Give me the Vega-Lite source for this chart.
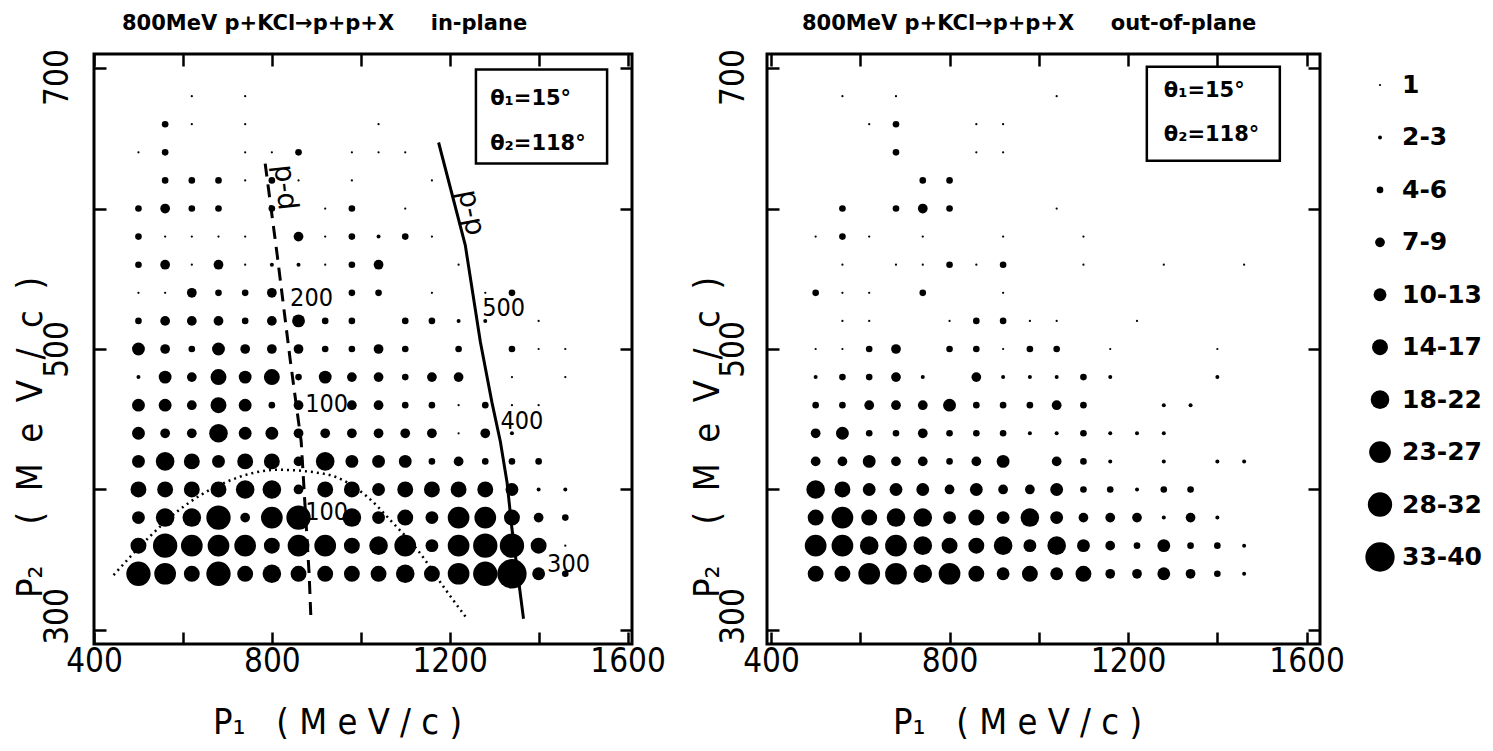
{
  "$schema": "https://vega.github.io/schema/vega-lite/v6.json",
  "padding": {"left": 10, "top": 11, "right": 0, "bottom": 0},
  "bounds": "flush",
  "spacing": 135,
  "config": {
    "view": {"stroke": "black", "strokeWidth": 3},
    "font": "DejaVu Sans",
    "axis": {"grid": false, "domain": false, "tickColor": "black", "tickWidth": 2.5, "tickSize": -12, "labelColor": "black", "titleColor": "black", "labelFont": "DejaVu Sans Condensed, sans-serif", "titleFont": "DejaVu Sans Condensed, sans-serif", "labelFontSize": 33, "titleFontSize": 36, "titleFontWeight": "normal", "labelFlush": false, "labelOverlap": false}
  },
  "datasets": {
    "cells": [
      {"panel":"in","p1":620,"p2":680,"n":"1"},{"panel":"in","p1":740,"p2":680,"n":"1"},
      {"panel":"in","p1":560,"p2":660,"n":"4-6"},{"panel":"in","p1":620,"p2":660,"n":"1"},{"panel":"in","p1":740,"p2":660,"n":"1"},{"panel":"in","p1":1040,"p2":660,"n":"1"},
      {"panel":"in","p1":500,"p2":640,"n":"1"},{"panel":"in","p1":560,"p2":640,"n":"4-6"},{"panel":"in","p1":740,"p2":640,"n":"1"},{"panel":"in","p1":800,"p2":640,"n":"1"},{"panel":"in","p1":860,"p2":640,"n":"4-6"},{"panel":"in","p1":980,"p2":640,"n":"1"},{"panel":"in","p1":1040,"p2":640,"n":"1"},{"panel":"in","p1":1100,"p2":640,"n":"1"},
      {"panel":"in","p1":560,"p2":620,"n":"4-6"},{"panel":"in","p1":620,"p2":620,"n":"4-6"},{"panel":"in","p1":680,"p2":620,"n":"4-6"},{"panel":"in","p1":740,"p2":620,"n":"1"},{"panel":"in","p1":800,"p2":620,"n":"4-6"},{"panel":"in","p1":860,"p2":620,"n":"1"},{"panel":"in","p1":980,"p2":620,"n":"1"},{"panel":"in","p1":1160,"p2":620,"n":"1"},
      {"panel":"in","p1":500,"p2":600,"n":"4-6"},{"panel":"in","p1":560,"p2":600,"n":"7-9"},{"panel":"in","p1":620,"p2":600,"n":"4-6"},{"panel":"in","p1":680,"p2":600,"n":"4-6"},{"panel":"in","p1":800,"p2":600,"n":"4-6"},{"panel":"in","p1":920,"p2":600,"n":"1"},{"panel":"in","p1":980,"p2":600,"n":"4-6"},{"panel":"in","p1":1100,"p2":600,"n":"1"},
      {"panel":"in","p1":500,"p2":580,"n":"4-6"},{"panel":"in","p1":560,"p2":580,"n":"1"},{"panel":"in","p1":620,"p2":580,"n":"1"},{"panel":"in","p1":680,"p2":580,"n":"1"},{"panel":"in","p1":740,"p2":580,"n":"1"},{"panel":"in","p1":860,"p2":580,"n":"7-9"},{"panel":"in","p1":920,"p2":580,"n":"1"},{"panel":"in","p1":980,"p2":580,"n":"4-6"},{"panel":"in","p1":1040,"p2":580,"n":"2-3"},{"panel":"in","p1":1100,"p2":580,"n":"4-6"},{"panel":"in","p1":1160,"p2":580,"n":"1"},
      {"panel":"in","p1":500,"p2":560,"n":"4-6"},{"panel":"in","p1":560,"p2":560,"n":"7-9"},{"panel":"in","p1":620,"p2":560,"n":"1"},{"panel":"in","p1":680,"p2":560,"n":"7-9"},{"panel":"in","p1":740,"p2":560,"n":"1"},{"panel":"in","p1":800,"p2":560,"n":"2-3"},{"panel":"in","p1":860,"p2":560,"n":"2-3"},{"panel":"in","p1":920,"p2":560,"n":"1"},{"panel":"in","p1":980,"p2":560,"n":"4-6"},{"panel":"in","p1":1040,"p2":560,"n":"7-9"},{"panel":"in","p1":1220,"p2":560,"n":"1"},
      {"panel":"in","p1":500,"p2":540,"n":"1"},{"panel":"in","p1":560,"p2":540,"n":"1"},{"panel":"in","p1":620,"p2":540,"n":"7-9"},{"panel":"in","p1":680,"p2":540,"n":"4-6"},{"panel":"in","p1":740,"p2":540,"n":"4-6"},{"panel":"in","p1":800,"p2":540,"n":"7-9"},{"panel":"in","p1":980,"p2":540,"n":"4-6"},{"panel":"in","p1":1040,"p2":540,"n":"4-6"},{"panel":"in","p1":1160,"p2":540,"n":"1"},{"panel":"in","p1":1280,"p2":540,"n":"1"},{"panel":"in","p1":1340,"p2":540,"n":"4-6"},
      {"panel":"in","p1":500,"p2":520,"n":"4-6"},{"panel":"in","p1":560,"p2":520,"n":"7-9"},{"panel":"in","p1":620,"p2":520,"n":"7-9"},{"panel":"in","p1":680,"p2":520,"n":"7-9"},{"panel":"in","p1":740,"p2":520,"n":"4-6"},{"panel":"in","p1":800,"p2":520,"n":"7-9"},{"panel":"in","p1":860,"p2":520,"n":"10-13"},{"panel":"in","p1":920,"p2":520,"n":"4-6"},{"panel":"in","p1":980,"p2":520,"n":"4-6"},{"panel":"in","p1":1100,"p2":520,"n":"4-6"},{"panel":"in","p1":1160,"p2":520,"n":"4-6"},{"panel":"in","p1":1220,"p2":520,"n":"2-3"},{"panel":"in","p1":1280,"p2":520,"n":"2-3"},{"panel":"in","p1":1400,"p2":520,"n":"1"},
      {"panel":"in","p1":500,"p2":500,"n":"10-13"},{"panel":"in","p1":560,"p2":500,"n":"7-9"},{"panel":"in","p1":620,"p2":500,"n":"4-6"},{"panel":"in","p1":680,"p2":500,"n":"10-13"},{"panel":"in","p1":740,"p2":500,"n":"7-9"},{"panel":"in","p1":800,"p2":500,"n":"7-9"},{"panel":"in","p1":860,"p2":500,"n":"7-9"},{"panel":"in","p1":920,"p2":500,"n":"4-6"},{"panel":"in","p1":980,"p2":500,"n":"4-6"},{"panel":"in","p1":1040,"p2":500,"n":"7-9"},{"panel":"in","p1":1100,"p2":500,"n":"4-6"},{"panel":"in","p1":1220,"p2":500,"n":"4-6"},{"panel":"in","p1":1340,"p2":500,"n":"4-6"},{"panel":"in","p1":1400,"p2":500,"n":"1"},{"panel":"in","p1":1460,"p2":500,"n":"1"},
      {"panel":"in","p1":500,"p2":480,"n":"2-3"},{"panel":"in","p1":560,"p2":480,"n":"10-13"},{"panel":"in","p1":620,"p2":480,"n":"7-9"},{"panel":"in","p1":680,"p2":480,"n":"14-17"},{"panel":"in","p1":740,"p2":480,"n":"10-13"},{"panel":"in","p1":800,"p2":480,"n":"14-17"},{"panel":"in","p1":860,"p2":480,"n":"4-6"},{"panel":"in","p1":920,"p2":480,"n":"10-13"},{"panel":"in","p1":980,"p2":480,"n":"7-9"},{"panel":"in","p1":1040,"p2":480,"n":"7-9"},{"panel":"in","p1":1100,"p2":480,"n":"4-6"},{"panel":"in","p1":1160,"p2":480,"n":"7-9"},{"panel":"in","p1":1220,"p2":480,"n":"7-9"},{"panel":"in","p1":1340,"p2":480,"n":"1"},{"panel":"in","p1":1460,"p2":480,"n":"1"},
      {"panel":"in","p1":500,"p2":460,"n":"10-13"},{"panel":"in","p1":560,"p2":460,"n":"10-13"},{"panel":"in","p1":620,"p2":460,"n":"7-9"},{"panel":"in","p1":680,"p2":460,"n":"14-17"},{"panel":"in","p1":740,"p2":460,"n":"10-13"},{"panel":"in","p1":800,"p2":460,"n":"4-6"},{"panel":"in","p1":860,"p2":460,"n":"7-9"},{"panel":"in","p1":980,"p2":460,"n":"7-9"},{"panel":"in","p1":1040,"p2":460,"n":"7-9"},{"panel":"in","p1":1100,"p2":460,"n":"4-6"},{"panel":"in","p1":1160,"p2":460,"n":"4-6"},{"panel":"in","p1":1220,"p2":460,"n":"1"},{"panel":"in","p1":1280,"p2":460,"n":"4-6"},{"panel":"in","p1":1340,"p2":460,"n":"1"},{"panel":"in","p1":1400,"p2":460,"n":"1"},
      {"panel":"in","p1":500,"p2":440,"n":"10-13"},{"panel":"in","p1":560,"p2":440,"n":"7-9"},{"panel":"in","p1":620,"p2":440,"n":"7-9"},{"panel":"in","p1":680,"p2":440,"n":"18-22"},{"panel":"in","p1":740,"p2":440,"n":"10-13"},{"panel":"in","p1":800,"p2":440,"n":"10-13"},{"panel":"in","p1":860,"p2":440,"n":"7-9"},{"panel":"in","p1":920,"p2":440,"n":"7-9"},{"panel":"in","p1":980,"p2":440,"n":"7-9"},{"panel":"in","p1":1040,"p2":440,"n":"7-9"},{"panel":"in","p1":1100,"p2":440,"n":"7-9"},{"panel":"in","p1":1160,"p2":440,"n":"7-9"},{"panel":"in","p1":1220,"p2":440,"n":"1"},{"panel":"in","p1":1280,"p2":440,"n":"7-9"},{"panel":"in","p1":1340,"p2":440,"n":"2-3"},
      {"panel":"in","p1":500,"p2":420,"n":"10-13"},{"panel":"in","p1":560,"p2":420,"n":"18-22"},{"panel":"in","p1":620,"p2":420,"n":"14-17"},{"panel":"in","p1":680,"p2":420,"n":"10-13"},{"panel":"in","p1":740,"p2":420,"n":"14-17"},{"panel":"in","p1":800,"p2":420,"n":"14-17"},{"panel":"in","p1":860,"p2":420,"n":"7-9"},{"panel":"in","p1":920,"p2":420,"n":"18-22"},{"panel":"in","p1":980,"p2":420,"n":"10-13"},{"panel":"in","p1":1040,"p2":420,"n":"10-13"},{"panel":"in","p1":1100,"p2":420,"n":"10-13"},{"panel":"in","p1":1160,"p2":420,"n":"4-6"},{"panel":"in","p1":1220,"p2":420,"n":"7-9"},{"panel":"in","p1":1280,"p2":420,"n":"4-6"},{"panel":"in","p1":1340,"p2":420,"n":"4-6"},{"panel":"in","p1":1400,"p2":420,"n":"4-6"},
      {"panel":"in","p1":500,"p2":400,"n":"14-17"},{"panel":"in","p1":560,"p2":400,"n":"14-17"},{"panel":"in","p1":620,"p2":400,"n":"14-17"},{"panel":"in","p1":680,"p2":400,"n":"14-17"},{"panel":"in","p1":740,"p2":400,"n":"18-22"},{"panel":"in","p1":800,"p2":400,"n":"18-22"},{"panel":"in","p1":860,"p2":400,"n":"7-9"},{"panel":"in","p1":920,"p2":400,"n":"14-17"},{"panel":"in","p1":980,"p2":400,"n":"14-17"},{"panel":"in","p1":1040,"p2":400,"n":"10-13"},{"panel":"in","p1":1100,"p2":400,"n":"14-17"},{"panel":"in","p1":1160,"p2":400,"n":"14-17"},{"panel":"in","p1":1220,"p2":400,"n":"14-17"},{"panel":"in","p1":1280,"p2":400,"n":"14-17"},{"panel":"in","p1":1340,"p2":400,"n":"10-13"},{"panel":"in","p1":1400,"p2":400,"n":"2-3"},{"panel":"in","p1":1460,"p2":400,"n":"2-3"},
      {"panel":"in","p1":500,"p2":380,"n":"10-13"},{"panel":"in","p1":560,"p2":380,"n":"18-22"},{"panel":"in","p1":620,"p2":380,"n":"18-22"},{"panel":"in","p1":680,"p2":380,"n":"28-32"},{"panel":"in","p1":740,"p2":380,"n":"7-9"},{"panel":"in","p1":800,"p2":380,"n":"23-27"},{"panel":"in","p1":860,"p2":380,"n":"28-32"},{"panel":"in","p1":980,"p2":380,"n":"18-22"},{"panel":"in","p1":1040,"p2":380,"n":"10-13"},{"panel":"in","p1":1100,"p2":380,"n":"14-17"},{"panel":"in","p1":1160,"p2":380,"n":"10-13"},{"panel":"in","p1":1220,"p2":380,"n":"23-27"},{"panel":"in","p1":1280,"p2":380,"n":"23-27"},{"panel":"in","p1":1340,"p2":380,"n":"14-17"},{"panel":"in","p1":1400,"p2":380,"n":"7-9"},{"panel":"in","p1":1460,"p2":380,"n":"4-6"},
      {"panel":"in","p1":500,"p2":360,"n":"14-17"},{"panel":"in","p1":560,"p2":360,"n":"28-32"},{"panel":"in","p1":620,"p2":360,"n":"23-27"},{"panel":"in","p1":680,"p2":360,"n":"23-27"},{"panel":"in","p1":740,"p2":360,"n":"23-27"},{"panel":"in","p1":800,"p2":360,"n":"14-17"},{"panel":"in","p1":860,"p2":360,"n":"23-27"},{"panel":"in","p1":920,"p2":360,"n":"23-27"},{"panel":"in","p1":980,"p2":360,"n":"14-17"},{"panel":"in","p1":1040,"p2":360,"n":"18-22"},{"panel":"in","p1":1100,"p2":360,"n":"23-27"},{"panel":"in","p1":1160,"p2":360,"n":"10-13"},{"panel":"in","p1":1220,"p2":360,"n":"23-27"},{"panel":"in","p1":1280,"p2":360,"n":"28-32"},{"panel":"in","p1":1340,"p2":360,"n":"28-32"},{"panel":"in","p1":1400,"p2":360,"n":"14-17"},{"panel":"in","p1":1460,"p2":360,"n":"1"},
      {"panel":"in","p1":500,"p2":340,"n":"28-32"},{"panel":"in","p1":560,"p2":340,"n":"23-27"},{"panel":"in","p1":620,"p2":340,"n":"14-17"},{"panel":"in","p1":680,"p2":340,"n":"28-32"},{"panel":"in","p1":740,"p2":340,"n":"14-17"},{"panel":"in","p1":800,"p2":340,"n":"18-22"},{"panel":"in","p1":860,"p2":340,"n":"14-17"},{"panel":"in","p1":920,"p2":340,"n":"14-17"},{"panel":"in","p1":980,"p2":340,"n":"14-17"},{"panel":"in","p1":1040,"p2":340,"n":"14-17"},{"panel":"in","p1":1100,"p2":340,"n":"18-22"},{"panel":"in","p1":1160,"p2":340,"n":"14-17"},{"panel":"in","p1":1220,"p2":340,"n":"23-27"},{"panel":"in","p1":1280,"p2":340,"n":"28-32"},{"panel":"in","p1":1340,"p2":340,"n":"33-40"},{"panel":"in","p1":1400,"p2":340,"n":"10-13"},{"panel":"in","p1":1460,"p2":340,"n":"4-6"},

      {"panel":"out","p1":560,"p2":680,"n":"1"},{"panel":"out","p1":680,"p2":680,"n":"1"},{"panel":"out","p1":1040,"p2":680,"n":"1"},
      {"panel":"out","p1":620,"p2":660,"n":"1"},{"panel":"out","p1":680,"p2":660,"n":"4-6"},{"panel":"out","p1":860,"p2":660,"n":"1"},{"panel":"out","p1":920,"p2":660,"n":"1"},
      {"panel":"out","p1":680,"p2":640,"n":"4-6"},{"panel":"out","p1":860,"p2":640,"n":"1"},{"panel":"out","p1":920,"p2":640,"n":"1"},
      {"panel":"out","p1":740,"p2":620,"n":"4-6"},{"panel":"out","p1":800,"p2":620,"n":"4-6"},
      {"panel":"out","p1":560,"p2":600,"n":"4-6"},{"panel":"out","p1":680,"p2":600,"n":"4-6"},{"panel":"out","p1":740,"p2":600,"n":"7-9"},{"panel":"out","p1":800,"p2":600,"n":"4-6"},{"panel":"out","p1":1040,"p2":600,"n":"1"},
      {"panel":"out","p1":500,"p2":580,"n":"1"},{"panel":"out","p1":560,"p2":580,"n":"4-6"},{"panel":"out","p1":620,"p2":580,"n":"1"},{"panel":"out","p1":740,"p2":580,"n":"1"},{"panel":"out","p1":920,"p2":580,"n":"1"},{"panel":"out","p1":1100,"p2":580,"n":"1"},
      {"panel":"out","p1":560,"p2":560,"n":"1"},{"panel":"out","p1":680,"p2":560,"n":"1"},{"panel":"out","p1":740,"p2":560,"n":"1"},{"panel":"out","p1":800,"p2":560,"n":"4-6"},{"panel":"out","p1":860,"p2":560,"n":"1"},{"panel":"out","p1":920,"p2":560,"n":"4-6"},{"panel":"out","p1":1100,"p2":560,"n":"1"},{"panel":"out","p1":1280,"p2":560,"n":"1"},{"panel":"out","p1":1460,"p2":560,"n":"1"},
      {"panel":"out","p1":500,"p2":540,"n":"4-6"},{"panel":"out","p1":560,"p2":540,"n":"1"},{"panel":"out","p1":620,"p2":540,"n":"1"},{"panel":"out","p1":740,"p2":540,"n":"4-6"},{"panel":"out","p1":920,"p2":540,"n":"1"},
      {"panel":"out","p1":560,"p2":520,"n":"1"},{"panel":"out","p1":620,"p2":520,"n":"1"},{"panel":"out","p1":800,"p2":520,"n":"1"},{"panel":"out","p1":860,"p2":520,"n":"4-6"},{"panel":"out","p1":920,"p2":520,"n":"4-6"},{"panel":"out","p1":980,"p2":520,"n":"1"},{"panel":"out","p1":1040,"p2":520,"n":"1"},{"panel":"out","p1":1220,"p2":520,"n":"1"},
      {"panel":"out","p1":500,"p2":500,"n":"1"},{"panel":"out","p1":560,"p2":500,"n":"1"},{"panel":"out","p1":620,"p2":500,"n":"4-6"},{"panel":"out","p1":680,"p2":500,"n":"7-9"},{"panel":"out","p1":800,"p2":500,"n":"4-6"},{"panel":"out","p1":860,"p2":500,"n":"4-6"},{"panel":"out","p1":920,"p2":500,"n":"1"},{"panel":"out","p1":980,"p2":500,"n":"4-6"},{"panel":"out","p1":1040,"p2":500,"n":"4-6"},{"panel":"out","p1":1160,"p2":500,"n":"1"},{"panel":"out","p1":1400,"p2":500,"n":"1"},
      {"panel":"out","p1":500,"p2":480,"n":"2-3"},{"panel":"out","p1":560,"p2":480,"n":"4-6"},{"panel":"out","p1":620,"p2":480,"n":"4-6"},{"panel":"out","p1":680,"p2":480,"n":"7-9"},{"panel":"out","p1":740,"p2":480,"n":"2-3"},{"panel":"out","p1":860,"p2":480,"n":"7-9"},{"panel":"out","p1":920,"p2":480,"n":"2-3"},{"panel":"out","p1":980,"p2":480,"n":"2-3"},{"panel":"out","p1":1040,"p2":480,"n":"2-3"},{"panel":"out","p1":1100,"p2":480,"n":"4-6"},{"panel":"out","p1":1160,"p2":480,"n":"2-3"},{"panel":"out","p1":1400,"p2":480,"n":"2-3"},
      {"panel":"out","p1":500,"p2":460,"n":"4-6"},{"panel":"out","p1":560,"p2":460,"n":"4-6"},{"panel":"out","p1":620,"p2":460,"n":"7-9"},{"panel":"out","p1":680,"p2":460,"n":"7-9"},{"panel":"out","p1":740,"p2":460,"n":"7-9"},{"panel":"out","p1":800,"p2":460,"n":"10-13"},{"panel":"out","p1":860,"p2":460,"n":"4-6"},{"panel":"out","p1":920,"p2":460,"n":"4-6"},{"panel":"out","p1":980,"p2":460,"n":"4-6"},{"panel":"out","p1":1040,"p2":460,"n":"7-9"},{"panel":"out","p1":1100,"p2":460,"n":"4-6"},{"panel":"out","p1":1280,"p2":460,"n":"2-3"},{"panel":"out","p1":1340,"p2":460,"n":"2-3"},
      {"panel":"out","p1":500,"p2":440,"n":"7-9"},{"panel":"out","p1":560,"p2":440,"n":"10-13"},{"panel":"out","p1":620,"p2":440,"n":"4-6"},{"panel":"out","p1":680,"p2":440,"n":"4-6"},{"panel":"out","p1":740,"p2":440,"n":"7-9"},{"panel":"out","p1":800,"p2":440,"n":"4-6"},{"panel":"out","p1":860,"p2":440,"n":"4-6"},{"panel":"out","p1":920,"p2":440,"n":"4-6"},{"panel":"out","p1":980,"p2":440,"n":"2-3"},{"panel":"out","p1":1040,"p2":440,"n":"2-3"},{"panel":"out","p1":1100,"p2":440,"n":"4-6"},{"panel":"out","p1":1160,"p2":440,"n":"2-3"},{"panel":"out","p1":1220,"p2":440,"n":"2-3"},{"panel":"out","p1":1280,"p2":440,"n":"2-3"},
      {"panel":"out","p1":500,"p2":420,"n":"7-9"},{"panel":"out","p1":560,"p2":420,"n":"7-9"},{"panel":"out","p1":620,"p2":420,"n":"10-13"},{"panel":"out","p1":680,"p2":420,"n":"7-9"},{"panel":"out","p1":740,"p2":420,"n":"7-9"},{"panel":"out","p1":800,"p2":420,"n":"4-6"},{"panel":"out","p1":860,"p2":420,"n":"7-9"},{"panel":"out","p1":920,"p2":420,"n":"10-13"},{"panel":"out","p1":1040,"p2":420,"n":"7-9"},{"panel":"out","p1":1100,"p2":420,"n":"4-6"},{"panel":"out","p1":1160,"p2":420,"n":"2-3"},{"panel":"out","p1":1280,"p2":420,"n":"2-3"},{"panel":"out","p1":1400,"p2":420,"n":"2-3"},{"panel":"out","p1":1460,"p2":420,"n":"2-3"},
      {"panel":"out","p1":500,"p2":400,"n":"18-22"},{"panel":"out","p1":560,"p2":400,"n":"14-17"},{"panel":"out","p1":620,"p2":400,"n":"10-13"},{"panel":"out","p1":680,"p2":400,"n":"10-13"},{"panel":"out","p1":740,"p2":400,"n":"10-13"},{"panel":"out","p1":800,"p2":400,"n":"7-9"},{"panel":"out","p1":860,"p2":400,"n":"10-13"},{"panel":"out","p1":920,"p2":400,"n":"7-9"},{"panel":"out","p1":980,"p2":400,"n":"7-9"},{"panel":"out","p1":1040,"p2":400,"n":"10-13"},{"panel":"out","p1":1100,"p2":400,"n":"4-6"},{"panel":"out","p1":1160,"p2":400,"n":"4-6"},{"panel":"out","p1":1220,"p2":400,"n":"2-3"},{"panel":"out","p1":1280,"p2":400,"n":"4-6"},{"panel":"out","p1":1340,"p2":400,"n":"4-6"},
      {"panel":"out","p1":500,"p2":380,"n":"14-17"},{"panel":"out","p1":560,"p2":380,"n":"23-27"},{"panel":"out","p1":620,"p2":380,"n":"14-17"},{"panel":"out","p1":680,"p2":380,"n":"18-22"},{"panel":"out","p1":740,"p2":380,"n":"18-22"},{"panel":"out","p1":800,"p2":380,"n":"10-13"},{"panel":"out","p1":860,"p2":380,"n":"14-17"},{"panel":"out","p1":920,"p2":380,"n":"10-13"},{"panel":"out","p1":980,"p2":380,"n":"18-22"},{"panel":"out","p1":1040,"p2":380,"n":"10-13"},{"panel":"out","p1":1100,"p2":380,"n":"7-9"},{"panel":"out","p1":1160,"p2":380,"n":"7-9"},{"panel":"out","p1":1220,"p2":380,"n":"7-9"},{"panel":"out","p1":1280,"p2":380,"n":"2-3"},{"panel":"out","p1":1340,"p2":380,"n":"7-9"},{"panel":"out","p1":1400,"p2":380,"n":"2-3"},
      {"panel":"out","p1":500,"p2":360,"n":"23-27"},{"panel":"out","p1":560,"p2":360,"n":"23-27"},{"panel":"out","p1":620,"p2":360,"n":"18-22"},{"panel":"out","p1":680,"p2":360,"n":"23-27"},{"panel":"out","p1":740,"p2":360,"n":"18-22"},{"panel":"out","p1":800,"p2":360,"n":"14-17"},{"panel":"out","p1":860,"p2":360,"n":"14-17"},{"panel":"out","p1":920,"p2":360,"n":"18-22"},{"panel":"out","p1":980,"p2":360,"n":"10-13"},{"panel":"out","p1":1040,"p2":360,"n":"18-22"},{"panel":"out","p1":1100,"p2":360,"n":"10-13"},{"panel":"out","p1":1160,"p2":360,"n":"7-9"},{"panel":"out","p1":1220,"p2":360,"n":"4-6"},{"panel":"out","p1":1280,"p2":360,"n":"10-13"},{"panel":"out","p1":1340,"p2":360,"n":"4-6"},{"panel":"out","p1":1400,"p2":360,"n":"4-6"},{"panel":"out","p1":1460,"p2":360,"n":"2-3"},
      {"panel":"out","p1":500,"p2":340,"n":"14-17"},{"panel":"out","p1":560,"p2":340,"n":"14-17"},{"panel":"out","p1":620,"p2":340,"n":"23-27"},{"panel":"out","p1":680,"p2":340,"n":"23-27"},{"panel":"out","p1":740,"p2":340,"n":"18-22"},{"panel":"out","p1":800,"p2":340,"n":"23-27"},{"panel":"out","p1":860,"p2":340,"n":"14-17"},{"panel":"out","p1":920,"p2":340,"n":"10-13"},{"panel":"out","p1":980,"p2":340,"n":"14-17"},{"panel":"out","p1":1040,"p2":340,"n":"10-13"},{"panel":"out","p1":1100,"p2":340,"n":"14-17"},{"panel":"out","p1":1160,"p2":340,"n":"7-9"},{"panel":"out","p1":1220,"p2":340,"n":"7-9"},{"panel":"out","p1":1280,"p2":340,"n":"10-13"},{"panel":"out","p1":1340,"p2":340,"n":"7-9"},{"panel":"out","p1":1400,"p2":340,"n":"4-6"},{"panel":"out","p1":1460,"p2":340,"n":"2-3"}
    ],
    "curves": [
      {"curve":"pd","p1":785,"p2":632},{"curve":"pd","p1":812,"p2":567},{"curve":"pd","p1":841,"p2":493},{"curve":"pd","p1":866,"p2":434},{"curve":"pd","p1":884,"p2":339},{"curve":"pd","p1":888,"p2":307},
      {"curve":"pp","p1":1175,"p2":647},{"curve":"pp","p1":1235,"p2":574},{"curve":"pp","p1":1269,"p2":505},{"curve":"pp","p1":1295,"p2":462},{"curve":"pp","p1":1314,"p2":434},{"curve":"pp","p1":1329,"p2":405},{"curve":"pp","p1":1340,"p2":372},{"curve":"pp","p1":1366,"p2":308},
      {"curve":"arc","p1":444,"p2":339},{"curve":"arc","p1":527,"p2":367},{"curve":"arc","p1":590,"p2":385},{"curve":"arc","p1":695,"p2":405},{"curve":"arc","p1":815,"p2":414},{"curve":"arc","p1":920,"p2":411},{"curve":"arc","p1":1014,"p2":395},{"curve":"arc","p1":1070,"p2":377},{"curve":"arc","p1":1130,"p2":356},{"curve":"arc","p1":1190,"p2":329},{"curve":"arc","p1":1239,"p2":308}
    ],
    "notes": [
      {"t":"200","p1":841,"p2":536},{"t":"100","p1":875,"p2":461},{"t":"100","p1":875,"p2":384},
      {"t":"500","p1":1273,"p2":529},{"t":"400","p1":1314,"p2":449},{"t":"300","p1":1419,"p2":347}
    ],
    "boxes": [
      {"panel":"in","x1":1259,"x2":1554,"y1":632,"y2":699},
      {"panel":"out","x1":1242,"x2":1540,"y1":634,"y2":701}
    ],
    "boxtext": [
      {"panel":"in","t":"θ₁=15°","p1":1291,"p2":678},{"panel":"in","t":"θ₂=118°","p1":1291,"p2":646},
      {"panel":"out","t":"θ₁=15°","p1":1280,"p2":684},{"panel":"out","t":"θ₂=118°","p1":1280,"p2":652}
    ],
    "legend": [
      {"n":"1","k":1},{"n":"2-3","k":2},{"n":"4-6","k":3},{"n":"7-9","k":4},{"n":"10-13","k":5},{"n":"14-17","k":6},{"n":"18-22","k":7},{"n":"23-27","k":8},{"n":"28-32","k":9},{"n":"33-40","k":10}
    ]
  },
  "hconcat": [
    {
      "width": 538, "height": 590,
      "title": {"text": "800MeV p+KCl→p+p+X\u00a0\u00a0\u00a0\u00a0\u00a0in-plane", "frame": "group", "anchor": "start", "dx": 28, "offset": -2, "baseline": "alphabetic", "fontSize": 21, "fontWeight": "bold", "font": "DejaVu Sans", "color": "black"},
      "layer": [
        {
          "data": {"name": "cells"},
          "transform": [{"filter": "datum.panel == 'in'"}],
          "mark": {"type": "circle", "color": "black", "opacity": 1},
          "encoding": {
            "x": {"field": "p1", "type": "quantitative", "scale": {"domain": [400, 1610], "nice": false, "zero": false},
                  "axis": {"orient": "bottom", "values": [400,600,800,1000,1200,1400,1600], "format": "d", "labelExpr": "datum.value % 400 == 0 ? datum.label : ''", "labelPadding": 13, "title": "P₁\u00a0\u00a0\u00a0(\u00a0M\u00a0e\u00a0V\u00a0/\u00a0c\u00a0)", "titleX": 243, "titleY": 78, "titleBaseline": "middle", "titleAlign": "center"}},
            "y": {"field": "p2", "type": "quantitative", "scale": {"domain": [290, 710], "nice": false, "zero": false},
                  "axis": {"orient": "left", "values": [300,400,500,600,700], "format": "d", "labelExpr": "datum.value % 200 == 100 ? datum.label : ''", "labelAngle": -90, "labelAlign": "center", "labelBaseline": "bottom", "labelPadding": 32, "labelOffset": {"condition": [{"test": "datum.value == 700", "value": 9}, {"test": "datum.value == 300", "value": -14}], "value": 0}, "title": "P₂\u00a0\u00a0\u00a0\u00a0(\u00a0\u00a0M\u00a0\u00a0e\u00a0\u00a0V\u00a0\u00a0/\u00a0\u00a0c\u00a0\u00a0)", "titleAngle": -90, "titleX": -64, "titleY": 383, "titleBaseline": "middle", "titleAlign": "center"}},
            "size": {"field": "n", "type": "ordinal", "scale": {"type": "ordinal", "domain": ["1","2-3","4-6","7-9","10-13","14-17","18-22","23-27","28-32","33-40"], "range": [5,16,44,95,165,254,346,471,594,860]}, "legend": null}
          }
        },
        {
          "data": {"name": "curves"},
          "transform": [{"filter": "datum.curve == 'pd'"}],
          "mark": {"type": "line", "color": "black", "strokeWidth": 3, "strokeDash": [13, 8]},
          "encoding": {
            "x": {"field": "p1", "type": "quantitative", "scale": {"domain": [400, 1610], "nice": false, "zero": false}, "axis": null},
            "y": {"field": "p2", "type": "quantitative", "scale": {"domain": [290, 710], "nice": false, "zero": false}, "axis": null}
          }
        },
        {
          "data": {"name": "curves"},
          "transform": [{"filter": "datum.curve == 'pp'"}],
          "mark": {"type": "line", "color": "black", "strokeWidth": 3},
          "encoding": {
            "x": {"field": "p1", "type": "quantitative", "scale": {"domain": [400, 1610], "nice": false, "zero": false}, "axis": null},
            "y": {"field": "p2", "type": "quantitative", "scale": {"domain": [290, 710], "nice": false, "zero": false}, "axis": null}
          }
        },
        {
          "data": {"name": "curves"},
          "transform": [{"filter": "datum.curve == 'arc'"}],
          "mark": {"type": "line", "color": "black", "strokeWidth": 2.5, "strokeDash": [2, 4], "interpolate": "monotone"},
          "encoding": {
            "x": {"field": "p1", "type": "quantitative", "scale": {"domain": [400, 1610], "nice": false, "zero": false}, "axis": null},
            "y": {"field": "p2", "type": "quantitative", "scale": {"domain": [290, 710], "nice": false, "zero": false}, "axis": null}
          }
        },
        {
          "data": {"name": "notes"},
          "mark": {"type": "text", "align": "left", "baseline": "middle", "fontSize": 25, "font": "DejaVu Sans Condensed, sans-serif", "color": "black"},
          "encoding": {
            "x": {"field": "p1", "type": "quantitative", "scale": {"domain": [400, 1610], "nice": false, "zero": false}, "axis": null},
            "y": {"field": "p2", "type": "quantitative", "scale": {"domain": [290, 710], "nice": false, "zero": false}, "axis": null},
            "text": {"field": "t"}
          }
        },
        {
          "data": {"values": [{"t": "p-d", "p1": 829, "p2": 615}]},
          "mark": {"type": "text", "align": "center", "baseline": "middle", "angle": 84, "fontSize": 28, "font": "DejaVu Sans", "color": "black"},
          "encoding": {
            "x": {"field": "p1", "type": "quantitative", "scale": {"domain": [400, 1610], "nice": false, "zero": false}, "axis": null},
            "y": {"field": "p2", "type": "quantitative", "scale": {"domain": [290, 710], "nice": false, "zero": false}, "axis": null},
            "text": {"field": "t"}
          }
        },
        {
          "data": {"values": [{"t": "p-p", "p1": 1247, "p2": 597}]},
          "mark": {"type": "text", "align": "center", "baseline": "middle", "angle": 79, "fontSize": 28, "font": "DejaVu Sans", "color": "black"},
          "encoding": {
            "x": {"field": "p1", "type": "quantitative", "scale": {"domain": [400, 1610], "nice": false, "zero": false}, "axis": null},
            "y": {"field": "p2", "type": "quantitative", "scale": {"domain": [290, 710], "nice": false, "zero": false}, "axis": null},
            "text": {"field": "t"}
          }
        },
        {
          "data": {"name": "boxes"},
          "transform": [{"filter": "datum.panel == 'in'"}],
          "mark": {"type": "rect", "fill": "white", "stroke": "black", "strokeWidth": 2.5},
          "encoding": {
            "x": {"field": "x1", "type": "quantitative", "scale": {"domain": [400, 1610], "nice": false, "zero": false},
                  "axis": {"orient": "top", "values": [400,600,800,1000,1200,1400,1600], "labels": false, "title": null}},
            "x2": {"field": "x2"},
            "y": {"field": "y1", "type": "quantitative", "scale": {"domain": [290, 710], "nice": false, "zero": false},
                  "axis": {"orient": "right", "values": [300,400,500,600,700], "labels": false, "title": null}},
            "y2": {"field": "y2"}
          }
        },
        {
          "data": {"name": "boxtext"},
          "transform": [{"filter": "datum.panel == 'in'"}],
          "mark": {"type": "text", "align": "left", "baseline": "middle", "fontSize": 21, "fontWeight": "bold", "font": "DejaVu Sans", "color": "black"},
          "encoding": {
            "x": {"field": "p1", "type": "quantitative", "scale": {"domain": [400, 1610], "nice": false, "zero": false}, "axis": null},
            "y": {"field": "p2", "type": "quantitative", "scale": {"domain": [290, 710], "nice": false, "zero": false}, "axis": null},
            "text": {"field": "t"}
          }
        }
      ],
      "resolve": {"axis": {"x": "independent", "y": "independent"}}
    },
    {
      "bounds": "flush",
      "spacing": 40,
      "hconcat": [
        {
          "width": 553, "height": 590,
          "title": {"text": "800MeV p+KCl→p+p+X\u00a0\u00a0\u00a0\u00a0\u00a0out-of-plane", "frame": "group", "anchor": "start", "dx": 35, "offset": -2, "baseline": "alphabetic", "fontSize": 21, "fontWeight": "bold", "font": "DejaVu Sans", "color": "black"},
          "layer": [
            {
              "data": {"name": "cells"},
              "transform": [{"filter": "datum.panel == 'out'"}],
              "mark": {"type": "circle", "color": "black", "opacity": 1},
              "encoding": {
                "x": {"field": "p1", "type": "quantitative", "scale": {"domain": [391, 1630], "nice": false, "zero": false},
                      "axis": {"orient": "bottom", "values": [400,600,800,1000,1200,1400,1600], "format": "d", "labelExpr": "datum.value % 400 == 0 ? datum.label : ''", "labelPadding": 13, "title": "P₁\u00a0\u00a0\u00a0(\u00a0M\u00a0e\u00a0V\u00a0/\u00a0c\u00a0)", "titleX": 250, "titleY": 78, "titleBaseline": "middle", "titleAlign": "center"}},
                "y": {"field": "p2", "type": "quantitative", "scale": {"domain": [290, 710], "nice": false, "zero": false},
                      "axis": {"orient": "left", "values": [300,400,500,600,700], "format": "d", "labelExpr": "datum.value % 200 == 100 ? datum.label : ''", "labelAngle": -90, "labelAlign": "center", "labelBaseline": "bottom", "labelPadding": 29, "labelOffset": {"condition": [{"test": "datum.value == 700", "value": 9}, {"test": "datum.value == 300", "value": -14}], "value": 0}, "title": "P₂\u00a0\u00a0\u00a0\u00a0(\u00a0\u00a0M\u00a0\u00a0e\u00a0\u00a0V\u00a0\u00a0/\u00a0\u00a0c\u00a0\u00a0)", "titleAngle": -90, "titleX": -60, "titleY": 383, "titleBaseline": "middle", "titleAlign": "center"}},
                "size": {"field": "n", "type": "ordinal", "scale": {"type": "ordinal", "domain": ["1","2-3","4-6","7-9","10-13","14-17","18-22","23-27","28-32","33-40"], "range": [5,16,44,95,165,254,346,471,594,860]}, "legend": null}
              }
            },
            {
              "data": {"name": "boxes"},
              "transform": [{"filter": "datum.panel == 'out'"}],
              "mark": {"type": "rect", "fill": "white", "stroke": "black", "strokeWidth": 2.5},
              "encoding": {
                "x": {"field": "x1", "type": "quantitative", "scale": {"domain": [391, 1630], "nice": false, "zero": false},
                      "axis": {"orient": "top", "values": [400,600,800,1000,1200,1400,1600], "labels": false, "title": null}},
                "x2": {"field": "x2"},
                "y": {"field": "y1", "type": "quantitative", "scale": {"domain": [290, 710], "nice": false, "zero": false},
                      "axis": {"orient": "right", "values": [300,400,500,600,700], "labels": false, "title": null}},
                "y2": {"field": "y2"}
              }
            },
            {
              "data": {"name": "boxtext"},
              "transform": [{"filter": "datum.panel == 'out'"}],
              "mark": {"type": "text", "align": "left", "baseline": "middle", "fontSize": 21, "fontWeight": "bold", "font": "DejaVu Sans", "color": "black"},
              "encoding": {
                "x": {"field": "p1", "type": "quantitative", "scale": {"domain": [391, 1630], "nice": false, "zero": false}, "axis": null},
                "y": {"field": "p2", "type": "quantitative", "scale": {"domain": [290, 710], "nice": false, "zero": false}, "axis": null},
                "text": {"field": "t"}
              }
            }
          ],
          "resolve": {"axis": {"x": "independent", "y": "independent"}}
        },
        {
          "width": 40, "height": 590,
          "view": {"stroke": null},
          "data": {"name": "legend"},
          "layer": [
            {
              "mark": {"type": "circle", "color": "black", "opacity": 1},
              "encoding": {
                "y": {"field": "k", "type": "quantitative", "scale": {"domain": [0.409, 11.659], "reverse": true, "nice": false, "zero": false}, "axis": null},
                "size": {"field": "n", "type": "ordinal", "scale": {"type": "ordinal", "domain": ["1","2-3","4-6","7-9","10-13","14-17","18-22","23-27","28-32","33-40"], "range": [5,16,44,95,165,254,346,471,594,860]}, "legend": null}
              }
            },
            {
              "mark": {"type": "text", "align": "left", "baseline": "middle", "dx": 22, "fontSize": 25, "fontWeight": "bold", "font": "DejaVu Sans", "color": "black"},
              "encoding": {
                "y": {"field": "k", "type": "quantitative", "scale": {"domain": [0.409, 11.659], "reverse": true, "nice": false, "zero": false}, "axis": null},
                "text": {"field": "n"}
              }
            }
          ]
        }
      ]
    }
  ]
}
